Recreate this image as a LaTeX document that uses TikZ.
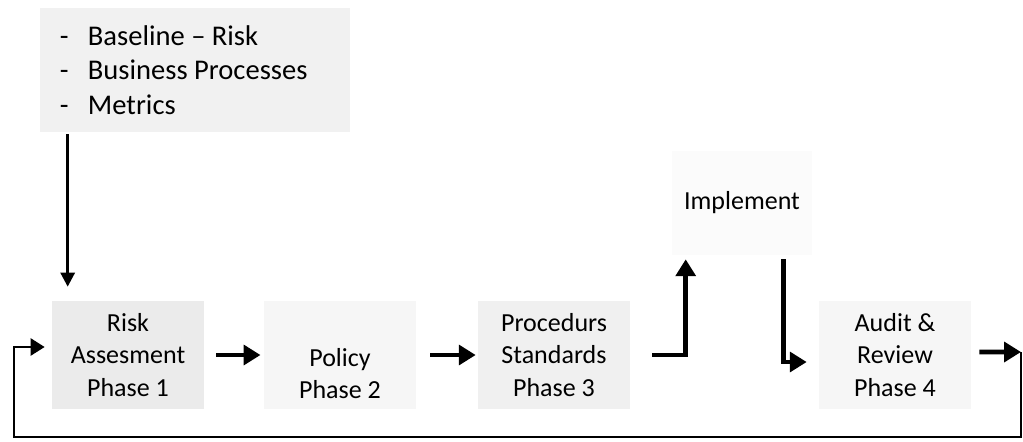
\documentclass[tikz,border=0pt]{standalone}
\usepackage{fontspec}
\setmainfont{Carlito}
\usetikzlibrary{arrows.meta}

\begin{document}
\begin{tikzpicture}[x=0.025cm, y=-0.025cm,
    phase/.style ={fill=gray!12, align=center, inner sep=0pt, minimum width=3.8cm, minimum height=2.7cm, font=\fontsize{18.5}{23}\selectfont},
    inputs/.style ={fill=gray!11, align=flush left, text width=6.75cm, inner xsep=0.5cm, inner ysep=0pt, minimum height=3.1cm, font=\fontsize{20.3}{24.5}\selectfont},
    feed/.style ={line width=2pt, -{Triangle[length=10pt,width=10pt]}},
    push/.style ={line width=3.4pt, -{Triangle[length=12pt,width=14pt]}},
    loopback/.style ={line width=2.1pt, -{Triangle[length=10pt,width=12pt]}}]
   \useasboundingbox (0,0) rectangle (1023,441);

   \node[inputs] (base) at (195,70) {\makebox[0.7cm][l]{-}Baseline -- Risk\\\makebox[0.7cm][l]{-}Business Processes\\\makebox[0.7cm][l]{-}Metrics};
   \node[phase, fill=gray!16] (risk) at (128,355) {Risk\\Assesment\\Phase 1};
   \node[phase, fill=gray!7] (policy) at (340,355) {\strut\\Policy\\Phase 2};
   \node[phase] (proc) at (554,355) {Procedurs\\Standards\\Phase 3};
   \node[phase, fill=gray!3, minimum width=3.5cm, minimum height=2.6cm] (impl) at (742,203) {Implement};
   \node[phase, fill=gray!7] (audit) at (895,355) {Audit \&\\Review\\Phase 4};
   \coordinate (exit) at (1021,352);

   \draw[feed, shorten <=0.05cm, shorten >=0.35cm] ([xshift=0.7cm]base.south west) -- ([xshift=0.7cm]base.south west |- risk.north);
   \draw[push, shorten <=0.3cm, shorten >=0.08cm] (risk.east) -- (policy.west);
   \draw[push, shorten <=0.35cm, shorten >=0.05cm] (policy.east) -- (proc.west);
   \draw[push] ([xshift=0.55cm]proc.east) -| ([xshift=0.35cm, yshift=-0.1cm]impl.south west);
   \draw[push] ([xshift=-0.725cm, yshift=-0.1cm]impl.south east) |- ([xshift=-0.3cm, yshift=-0.175cm]audit.west);
   \draw[push] ([xshift=0.2cm, yshift=0.075cm]audit.east) -- (exit);
   \draw[loopback] (exit) |- (14,437) |- ([xshift=-0.175cm, yshift=0.2cm]risk.west);
 \end{tikzpicture}
\end{document}
